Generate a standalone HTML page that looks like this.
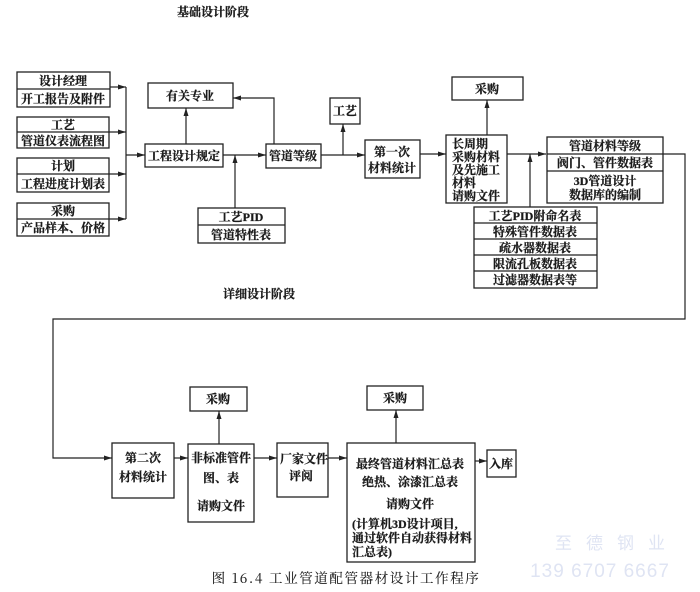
<!DOCTYPE html>
<html><head><meta charset="utf-8"><style>
html,body{margin:0;padding:0;background:#fff;}
svg{display:block;}
text{font-family:"Liberation Serif","Noto Serif CJK SC","Noto Sans CJK SC",serif;font-weight:bold;font-size:12px;fill:#1a1a1a;stroke:#1a1a1a;stroke-width:0.25;}
.r{fill:none;stroke:#222;stroke-width:1.3;}
.l{fill:none;stroke:#222;stroke-width:1.2;}
</style></head><body>
<svg width="700" height="592" viewBox="0 0 700 592" xmlns="http://www.w3.org/2000/svg">
<defs><marker id="a" markerWidth="8" markerHeight="6" refX="8" refY="3" orient="auto" markerUnits="userSpaceOnUse"><path d="M0,0.5 L8,3 L0,5.5z" fill="#222"/></marker></defs>

<text x="213" y="16" text-anchor="middle" font-size="12">基础设计阶段</text>
<text x="259" y="298" text-anchor="middle" font-size="12">详细设计阶段</text>

<!-- left boxes -->
<rect class="r" x="17" y="72" width="93" height="35"/><line class="l" x1="17" y1="89" x2="110" y2="89"/>
<text x="63" y="85" text-anchor="middle">设计经理</text><text x="63" y="103" text-anchor="middle">开工报告及附件</text>
<rect class="r" x="17" y="117" width="92" height="31"/><line class="l" x1="17" y1="132" x2="109" y2="132"/>
<text x="63" y="129" text-anchor="middle">工艺</text><text x="63" y="145" text-anchor="middle">管道仪表流程图</text>
<rect class="r" x="17" y="158" width="92" height="34"/><line class="l" x1="17" y1="174" x2="109" y2="174"/>
<text x="63" y="170" text-anchor="middle">计划</text><text x="63" y="188" text-anchor="middle">工程进度计划表</text>
<rect class="r" x="17" y="203" width="92" height="33"/><line class="l" x1="17" y1="219" x2="109" y2="219"/>
<text x="63" y="215" text-anchor="middle">采购</text><text x="63" y="232" text-anchor="middle">产品样本、价格</text>

<line class="l" x1="110" y1="87" x2="126" y2="87" marker-end="url(#a)"/>
<line class="l" x1="109" y1="132" x2="126" y2="132" marker-end="url(#a)"/>
<line class="l" x1="109" y1="174" x2="126" y2="174" marker-end="url(#a)"/>
<line class="l" x1="109" y1="219" x2="126" y2="219" marker-end="url(#a)"/>
<line class="l" x1="126" y1="87" x2="126" y2="219"/>
<line class="l" x1="126" y1="155" x2="145" y2="155" marker-end="url(#a)"/>

<rect class="r" x="145" y="144" width="78" height="23"/><text x="184" y="160" text-anchor="middle">工程设计规定</text>
<rect class="r" x="148" y="83" width="85" height="25"/><text x="190" y="100" text-anchor="middle">有关专业</text>
<line class="l" x1="186" y1="144" x2="186" y2="108" marker-end="url(#a)"/>
<line class="l" x1="223" y1="155" x2="266" y2="155" marker-end="url(#a)"/>
<rect class="r" x="198" y="208" width="87" height="35"/><line class="l" x1="198" y1="225" x2="285" y2="225"/>
<text x="241" y="221" text-anchor="middle">工艺PID</text><text x="241" y="239" text-anchor="middle">管道特性表</text>
<line class="l" x1="235" y1="208" x2="235" y2="155" marker-end="url(#a)"/>

<rect class="r" x="266" y="144" width="55" height="24"/><text x="293" y="160" text-anchor="middle">管道等级</text>
<polyline class="l" points="274,144 274,98 233,98" marker-end="url(#a)"/>
<line class="l" x1="321" y1="155" x2="365" y2="155" marker-end="url(#a)"/>
<rect class="r" x="330" y="98" width="30" height="26"/><text x="345" y="115" text-anchor="middle">工艺</text>
<line class="l" x1="343" y1="155" x2="343" y2="124" marker-end="url(#a)"/>

<rect class="r" x="365" y="140" width="55" height="38"/>
<text x="392" y="156" text-anchor="middle">第一次</text><text x="392" y="172" text-anchor="middle">材料统计</text>
<line class="l" x1="420" y1="154" x2="446" y2="154" marker-end="url(#a)"/>

<rect class="r" x="446" y="135" width="61" height="68"/>
<text x="452" y="148">长周期</text><text x="452" y="161">采购材料</text><text x="452" y="174">及先施工</text><text x="452" y="187">材料</text><text x="452" y="200">请购文件</text>
<rect class="r" x="452" y="77" width="71" height="23"/><text x="487" y="93" text-anchor="middle">采购</text>
<line class="l" x1="487" y1="135" x2="487" y2="100" marker-end="url(#a)"/>
<line class="l" x1="507" y1="154" x2="546" y2="154" marker-end="url(#a)"/>
<line class="l" x1="530" y1="207" x2="530" y2="154" marker-end="url(#a)"/>

<rect class="r" x="547" y="137" width="116" height="66"/>
<line class="l" x1="547" y1="154" x2="663" y2="154"/><line class="l" x1="547" y1="171" x2="663" y2="171"/>
<text x="605" y="150" text-anchor="middle">管道材料等级</text>
<text x="605" y="167" text-anchor="middle">阀门、管件数据表</text>
<text x="605" y="185" text-anchor="middle">3D管道设计</text>
<text x="605" y="199" text-anchor="middle">数据库的编制</text>

<rect class="r" x="474" y="207" width="123" height="81"/>
<line class="l" x1="474" y1="223" x2="597" y2="223"/><line class="l" x1="474" y1="239" x2="597" y2="239"/>
<line class="l" x1="474" y1="255" x2="597" y2="255"/><line class="l" x1="474" y1="271" x2="597" y2="271"/>
<text x="535" y="220" text-anchor="middle">工艺PID附命名表</text>
<text x="535" y="236" text-anchor="middle">特殊管件数据表</text>
<text x="535" y="252" text-anchor="middle">疏水器数据表</text>
<text x="535" y="268" text-anchor="middle">限流孔板数据表</text>
<text x="535" y="284" text-anchor="middle">过滤器数据表等</text>

<polyline class="l" points="663,154 685,154 685,319 53,319 53,458 112,458" marker-end="url(#a)"/>

<!-- bottom -->
<rect class="r" x="112" y="443" width="62" height="55"/>
<text x="143" y="462" text-anchor="middle">第二次</text><text x="143" y="481" text-anchor="middle">材料统计</text>
<line class="l" x1="174" y1="458" x2="188" y2="458" marker-end="url(#a)"/>
<rect class="r" x="188" y="444" width="66" height="78"/>
<text x="221" y="462" text-anchor="middle">非标准管件</text><text x="221" y="482" text-anchor="middle">图、表</text><text x="221" y="510" text-anchor="middle">请购文件</text>
<rect class="r" x="190" y="387" width="57" height="24"/><text x="218" y="403" text-anchor="middle">采购</text>
<line class="l" x1="219" y1="444" x2="219" y2="411" marker-end="url(#a)"/>
<line class="l" x1="254" y1="458" x2="277" y2="458" marker-end="url(#a)"/>
<rect class="r" x="277" y="443" width="51" height="54"/>
<text x="280" y="463">厂家文件</text><text x="289" y="480">评阅</text>
<line class="l" x1="328" y1="458" x2="347" y2="458" marker-end="url(#a)"/>
<rect class="r" x="347" y="443" width="128" height="119"/>
<text x="410" y="468" text-anchor="middle">最终管道材料汇总表</text>
<text x="410" y="486" text-anchor="middle">绝热、涂漆汇总表</text>
<text x="410" y="508" text-anchor="middle">请购文件</text>
<text x="352" y="528">(计算机3D设计项目,</text>
<text x="352" y="542">通过软件自动获得材料</text>
<text x="352" y="556">汇总表)</text>
<rect class="r" x="367" y="386" width="56" height="24"/><text x="395" y="402" text-anchor="middle">采购</text>
<line class="l" x1="396" y1="443" x2="396" y2="410" marker-end="url(#a)"/>
<line class="l" x1="475" y1="461" x2="487" y2="461" marker-end="url(#a)"/>
<rect class="r" x="487" y="450" width="29" height="27"/><text x="501" y="468" text-anchor="middle">入库</text>

<text x="346" y="583" text-anchor="middle" style="font-family:'Noto Serif CJK SC',serif;font-weight:normal;font-size:13.5px;letter-spacing:1.6px;stroke-width:0.1">图 16.4   工业管道配管器材设计工作程序</text>

<text x="617" y="549" text-anchor="middle" style="font-family:'Noto Sans CJK SC',sans-serif;font-weight:normal;font-size:17px;fill:#dfe4f3;stroke:none;letter-spacing:14px">至德钢业</text>
<text x="600" y="577" text-anchor="middle" style="font-family:'Liberation Sans',sans-serif;font-weight:normal;font-size:19px;fill:#dfe4f3;stroke:none;letter-spacing:1px">139 6707 6667</text>
</svg>
</body></html>
